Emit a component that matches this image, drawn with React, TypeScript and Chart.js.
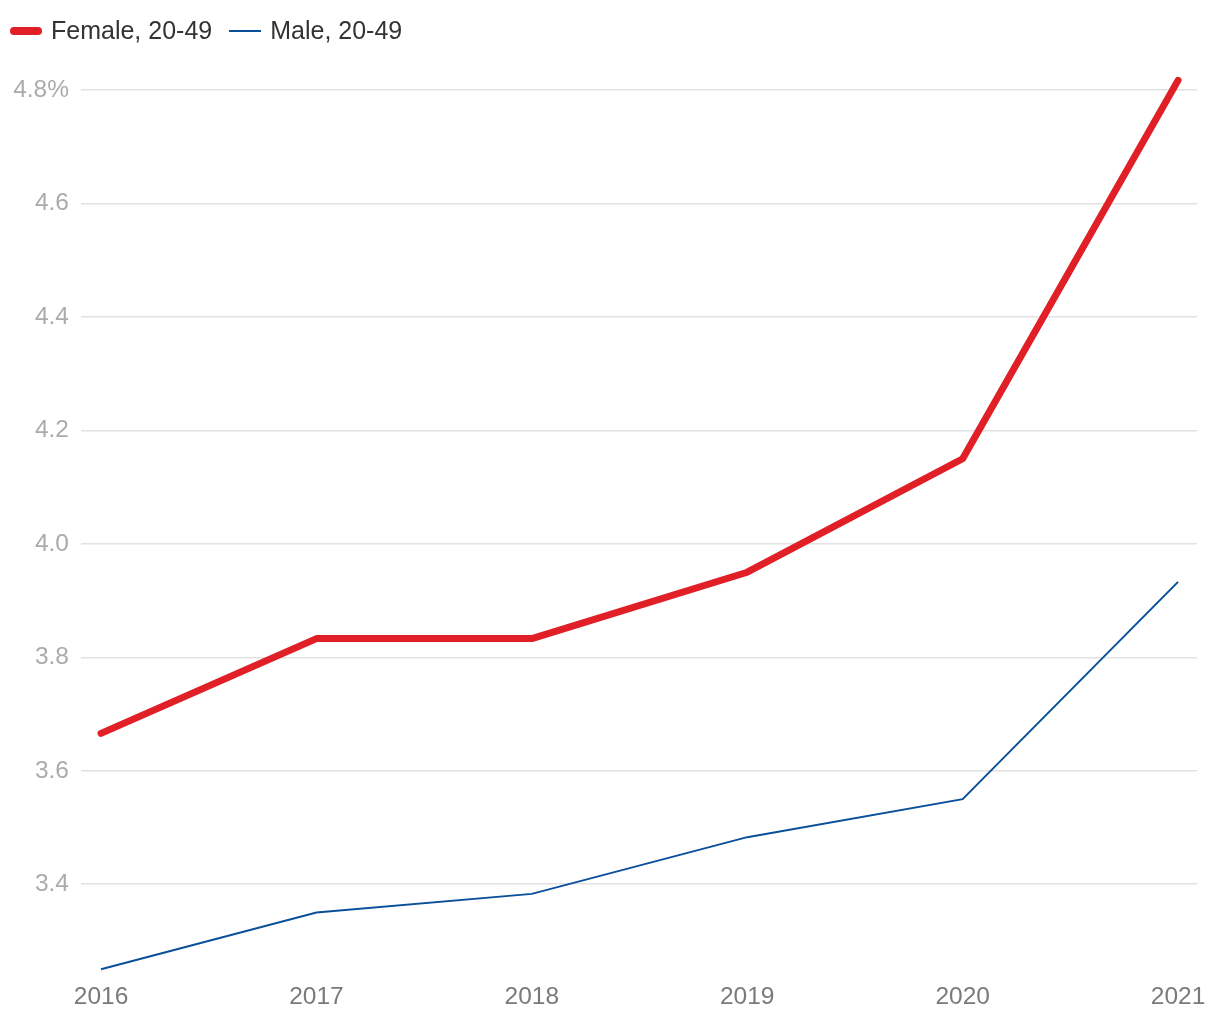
import React, { useEffect, useRef } from "react";
import { Chart, registerables } from "chart.js";

Chart.register(...registerables);

const years = [2016, 2017, 2018, 2019, 2020, 2021];
const femaleValues = [3.666, 3.833, 3.833, 3.95, 4.15, 4.817];
const maleValues = [3.25, 3.35, 3.383, 3.483, 3.55, 3.933];
const yTicks = [3.4, 3.6, 3.8, 4.0, 4.2, 4.4, 4.6, 4.8];
const seriesLabels = ["Female, 20-49", "Male, 20-49"];
const seriesColors = ["#e01f26", "#0a4f9a"];

const FONT = "'Liberation Sans', Arial, Helvetica, sans-serif";

export default function App() {
  const ref = useRef<HTMLCanvasElement | null>(null);

  useEffect(() => {
    if (!ref.current) return;
    const chart = new Chart(ref.current, {
      type: "line",
      data: {
        datasets: [
          {
            label: seriesLabels[0],
            data: years.map((y, i) => ({ x: y, y: femaleValues[i] })),
            borderColor: seriesColors[0],
            borderWidth: 7,
            borderCapStyle: "round",
            borderJoinStyle: "round",
            pointRadius: 0,
            tension: 0,
          },
          {
            label: seriesLabels[1],
            data: years.map((y, i) => ({ x: y, y: maleValues[i] })),
            borderColor: seriesColors[1],
            borderWidth: 2,
            pointRadius: 0,
            tension: 0,
          },
        ],
      },
      options: {
        animation: false,
        responsive: false,
        maintainAspectRatio: false,
        layout: { padding: { top: 73, right: 23, bottom: 0, left: 0 } },
        plugins: { legend: { display: false }, tooltip: { enabled: false } },
        scales: {
          x: {
            type: "linear",
            min: 2015.907,
            max: 2021.088,
            afterBuildTicks: (scale: any) => {
              scale.ticks = years.map((v) => ({ value: v }));
            },
            afterFit: (scale: any) => {
              scale.height = 45;
            },
            grid: { display: false, drawTicks: false },
            border: { display: false },
            ticks: {
              padding: 8,
              color: "#7a7a7a",
              font: { family: FONT, size: 24.5 },
              callback: (v: any) => String(v),
              maxRotation: 0,
              autoSkip: false,
            },
          },
          y: {
            type: "linear",
            min: 3.24,
            max: 4.83,
            afterBuildTicks: (scale: any) => {
              scale.ticks = yTicks.map((v) => ({ value: v }));
            },
            afterFit: (scale: any) => {
              scale.width = 81;
            },
            grid: { color: "#e2e2e2", lineWidth: 1.5, drawTicks: false },
            border: { display: false },
            ticks: {
              padding: 12,
              color: "#ababab",
              font: { family: FONT, size: 24.5 },
              callback: (v: any) => {
                const n = Number(v);
                const s = n.toFixed(1);
                return Math.abs(n - 4.8) < 1e-6 ? s + "%" : s;
              },
            },
          },
        },
      },
    });
    return () => chart.destroy();
  }, []);

  return (
    <div style={{ position: "absolute", left: 0, top: 0, width: 1220, height: 1020, background: "#fff" }}>
      <canvas ref={ref} width={1220} height={1020} style={{ position: "absolute", left: 0, top: 0 }} />
      <div
        style={{
          position: "absolute",
          left: 10,
          top: 16,
          display: "flex",
          alignItems: "center",
          fontFamily: FONT,
          fontSize: 25,
          color: "#333",
        }}
      >
        <span style={{ display: "inline-block", width: 32, height: 8, borderRadius: 4, background: seriesColors[0], marginRight: 9 }} />
        <span style={{ marginRight: 17 }}>{seriesLabels[0]}</span>
        <span style={{ display: "inline-block", width: 32, height: 2, background: seriesColors[1], marginRight: 9 }} />
        <span>{seriesLabels[1]}</span>
      </div>
    </div>
  );
}
